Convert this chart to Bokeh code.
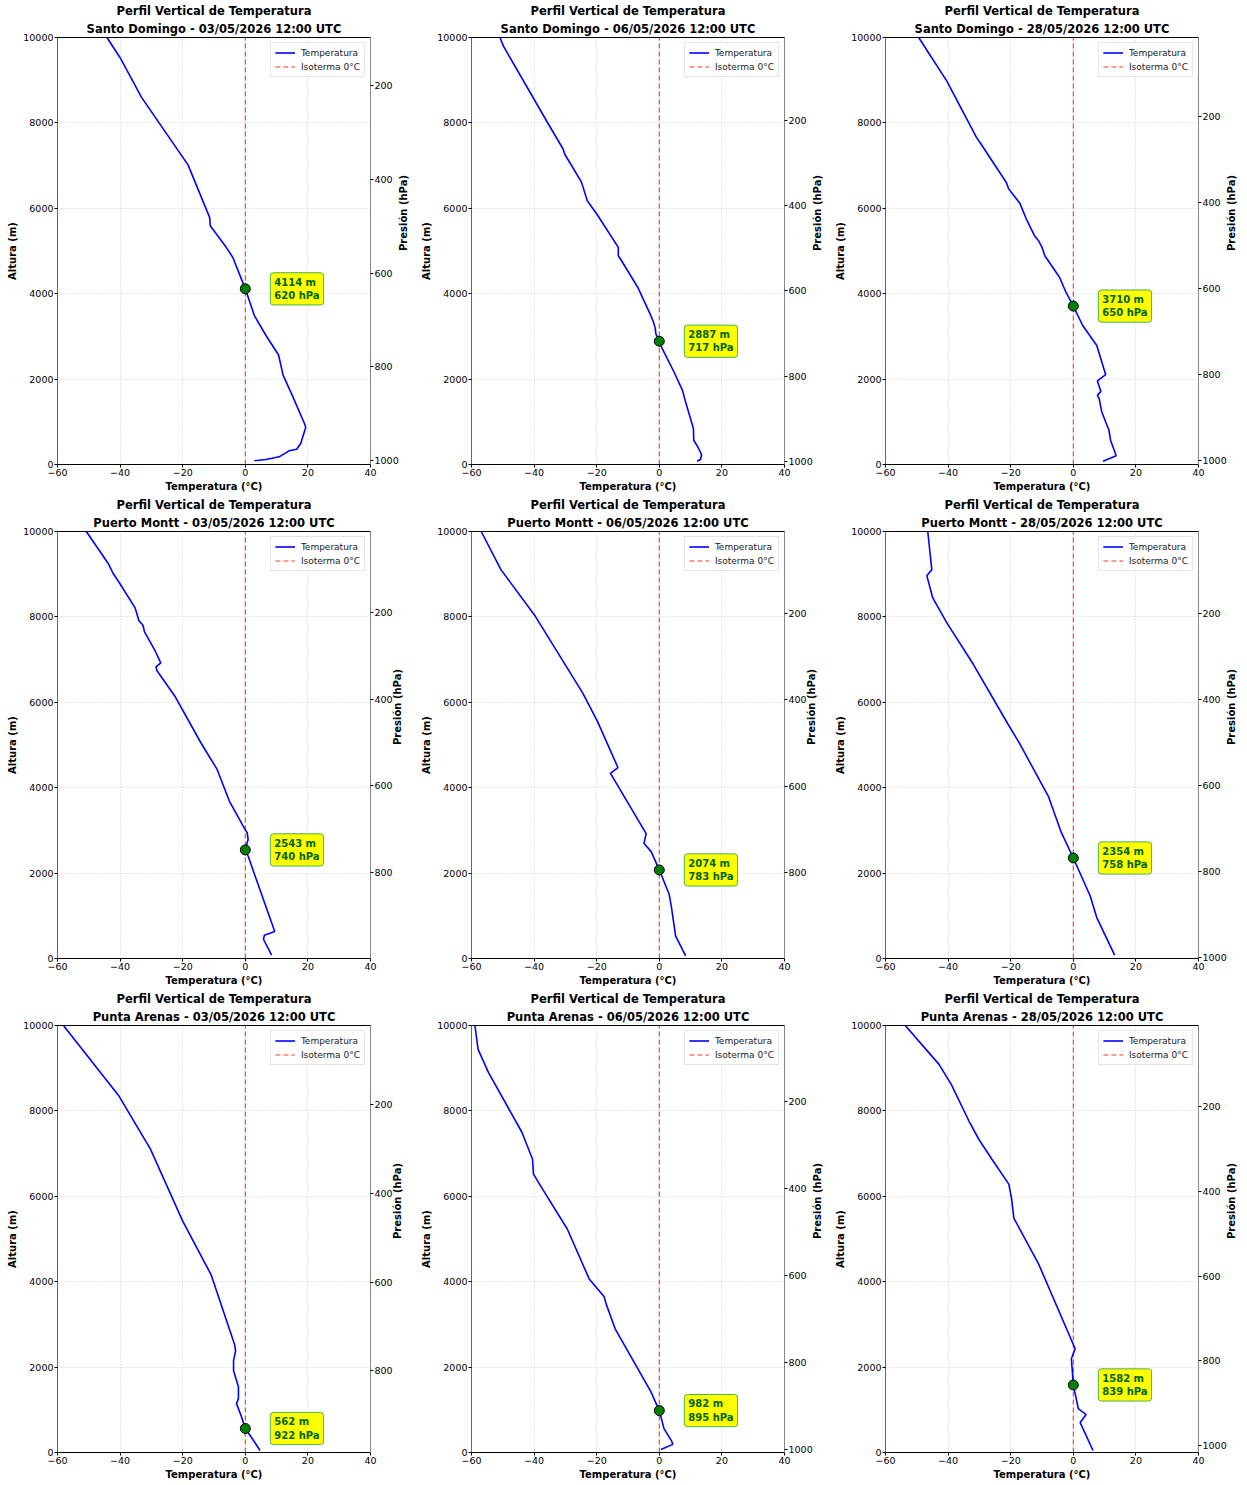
import math
from bokeh.plotting import figure
from bokeh.models import Range1d, LinearAxis, FixedTicker, Title, Label, Legend, LegendItem
from bokeh.layouts import gridplot
from bokeh.embed import file_html
from bokeh.resources import INLINE

FONT = "DejaVu Sans"

# ---------------- data ----------------
stations = ["Santo Domingo", "Santo Domingo", "Santo Domingo",
            "Puerto Montt", "Puerto Montt", "Puerto Montt",
            "Punta Arenas", "Punta Arenas", "Punta Arenas"]
dates = ["03/05/2026", "06/05/2026", "28/05/2026"] * 3
hour = "12:00 UTC"

sd_0305_alt = [86, 117, 180, 320, 357, 491, 864, 942, 1619, 2086, 2570, 3021, 3488, 4114,
               4852, 5086, 5591, 5787, 7016, 8591, 9526, 10000]
sd_0305_temp = [2.9, 6.6, 10.8, 14.0, 16.4, 17.7, 19.3, 19.0, 15.0, 12.1, 10.6, 6.6, 2.9, 0.0,
                -4.0, -6.1, -11.2, -11.4, -18.3, -33.1, -40.0, -44.2]

sd_0605_alt = [77, 124, 234, 413, 568, 841, 1465, 1736, 2166, 2750, 2887, 3061, 3194, 3318,
               3488, 4152, 4813, 4890, 5086, 5825, 6176, 6619, 7266, 7383, 8044, 9797, 10000]
sd_0605_temp = [12.1, 13.2, 13.5, 12.3, 11.0, 10.9, 8.4, 7.4, 4.7, 0.7, 0.0, -1.1, -1.3, -1.8,
                -2.7, -6.9, -12.4, -13.1, -13.1, -19.6, -23.0, -24.9, -30.2, -30.7, -36.0, -49.8, -50.9]

sd_2805_alt = [77, 203, 568, 801, 1231, 1542, 1619, 1713, 1956, 2103, 2399, 2787, 3255, 3710,
               4035, 4385, 4890, 5086, 5241, 5358, 5748, 6121, 6449, 6605, 7540, 7656, 8979, 10000]
sd_2805_temp = [9.5, 13.7, 11.9, 11.4, 9.1, 8.25, 7.7, 8.8, 7.7, 10.35, 9.1, 7.5, 3.0, 0.0,
                -2.35, -4.4, -9.1, -10.0, -11.1, -12.4, -15.0, -17.1, -20.6, -21.4, -29.8, -30.9, -40.4, -49.4]

pm_0305_alt = [77, 451, 545, 632, 1895, 2400, 2543, 2791, 2947, 3025, 3687, 4428, 5053, 6143,
               6744, 6830, 6924, 7196, 7649, 7804, 7914, 8211, 8795, 9029, 9263, 10000]
pm_0305_temp = [8.4, 5.8, 6.1, 9.4, 3.3, 0.9, 0.0, 0.9, 0.6, -0.1, -5.1, -9.0, -14.2, -22.5,
                -28.25, -28.55, -27.0, -28.75, -32.2, -32.7, -34.0, -35.2, -40.2, -42.3, -43.9, -50.8]

pm_0605_alt = [61, 529, 1193, 1504, 1932, 2074, 2503, 2697, 2924, 4335, 4468, 5013, 5558,
               6222, 8014, 9107, 10000]
pm_0605_temp = [8.4, 5.2, 3.9, 3.15, 0.8, 0.0, -2.6, -4.9, -4.2, -15.6, -13.2, -16.5, -19.8,
                -24.5, -39.6, -50.6, -56.9]

pm_2805_alt = [77, 959, 1464, 2354, 2947, 3804, 5053, 5480, 6884, 7860, 8444, 8966, 9107, 10000]
pm_2805_temp = [13.2, 7.5, 5.4, 0.0, -3.8, -8.0, -17.3, -20.8, -31.9, -40.4, -44.9, -46.8, -45.2, -46.5]

pa_0305_alt = [47, 327, 562, 841, 1145, 1262, 1542, 1916, 2150, 2383, 2523, 4159, 5420, 7103,
               8341, 10000]
pa_0305_temp = [4.7, 2.2, 0.0, -1.25, -2.8, -2.2, -2.2, -3.75, -3.75, -3.1, -3.4, -10.9, -20.0,
                -30.3, -40.3, -58.1]

pa_0605_alt = [70, 190, 260, 560, 982, 1425, 2897, 3481, 3645, 4065, 5234, 6168, 6519, 6869,
               7500, 8902, 9440, 10000]
pa_0605_temp = [0.5, 4.3, 4.0, 1.5, 0.0, -2.7, -14.1, -17.0, -17.6, -22.4, -29.4, -37.3, -40.2,
                -40.5, -43.9, -54.6, -57.9, -58.9]

pa_2805_alt = [47, 701, 888, 1028, 1582, 2196, 2430, 4416, 5491, 5935, 6285, 6869, 7336, 7757,
               8621, 9089, 10000]
pa_2805_temp = [6.3, 2.2, 4.1, 1.6, 0.0, -0.6, 0.6, -11.1, -19.0, -19.7, -20.6, -26.0, -30.2,
                -33.3, -39.0, -42.9, -53.7]

freezing_alt = [4114, 2887, 3710, 2543, 2074, 2354, 562, 982, 1582]
freezing_pres = [620, 717, 650, 740, 783, 758, 922, 895, 839]

pres_axis_bottom = [1008, 1007, 1009, 999, 999, 1002, 984, 1007, 1016]
pres_axis_top = [98, 6, 17, 12, 10, 10, 22, 26, 9]

temp_ticks = [-60, -40, -20, 0, 20, 40]
alt_ticks = [0, 2000, 4000, 6000, 8000, 10000]
pres_ticks = [200, 400, 600, 800, 1000]
isotherm_temp = 0

profiles_alt = [sd_0305_alt, sd_0605_alt, sd_2805_alt,
                pm_0305_alt, pm_0605_alt, pm_2805_alt,
                pa_0305_alt, pa_0605_alt, pa_2805_alt]
profiles_temp = [sd_0305_temp, sd_0605_temp, sd_2805_temp,
                 pm_0305_temp, pm_0605_temp, pm_2805_temp,
                 pa_0305_temp, pa_0605_temp, pa_2805_temp]

# ---------------- layout ----------------
FRAME_W, FRAME_H = 313, 427


def minus(v):
    return ("\u2212%d" % abs(v)) if v < 0 else "%d" % v


def style_axis(ax):
    ax.axis_label_text_font = FONT
    ax.axis_label_text_font_style = "bold"
    ax.axis_label_text_font_size = "10px"
    ax.axis_label_text_color = "#000000"
    ax.major_label_text_font = FONT
    ax.major_label_text_font_size = "9.5px"
    ax.major_label_text_color = "#000000"
    ax.major_tick_in = 0
    ax.major_tick_out = 3
    ax.minor_tick_line_color = None
    ax.major_label_standoff = 1
    ax.axis_label_standoff = 2


figs = []
for i in range(9):
    r, c = divmod(i, 3)
    p = figure(frame_width=FRAME_W, frame_height=FRAME_H,
               output_backend="svg", toolbar_location=None,
               x_range=Range1d(temp_ticks[0], temp_ticks[-1]),
               y_range=Range1d(alt_ticks[0], alt_ticks[-1]),
               title=None,
               min_border_left=57 if c == 0 else 53, min_border_top=37,
               min_border_right=48, min_border_bottom=30)
    p.extra_y_ranges = {"p": Range1d(start=pres_axis_bottom[i], end=pres_axis_top[i])}
    p.background_fill_color = "white"
    p.border_fill_color = "white"
    p.outline_line_color = "black"
    p.outline_line_width = 1

    p.xaxis.ticker = FixedTicker(ticks=temp_ticks)
    p.xaxis.major_label_overrides = {t: minus(t) for t in temp_ticks}
    p.yaxis.ticker = FixedTicker(ticks=alt_ticks)
    p.xaxis.axis_label = "Temperatura (°C)"
    p.yaxis.axis_label = "Altura (m)"
    style_axis(p.xaxis[0])
    style_axis(p.yaxis[0])
    p.yaxis.axis_line_color = "#666666"

    rax = LinearAxis(y_range_name="p", ticker=FixedTicker(ticks=pres_ticks),
                     axis_label="Presión (hPa)")
    style_axis(rax)
    rax.axis_label_orientation = math.pi / 2
    rax.axis_line_color = "#888888"
    p.add_layout(rax, "right")

    for g in (p.xgrid[0], p.ygrid[0]):
        g.grid_line_color = "#b8b8b8"
        g.grid_line_dash = "1 2"
        g.grid_line_width = 0.8
        g.grid_line_alpha = 0.8

    iso = p.line([isotherm_temp, isotherm_temp], [alt_ticks[0], alt_ticks[-1]],
                 line_color="red", line_dash="5 3", line_width=1.1, line_alpha=0.8)
    prof = p.line(profiles_temp[i], profiles_alt[i], line_color="blue", line_width=1.6)

    p.scatter([isotherm_temp], [freezing_alt[i]], size=10, fill_color="green",
              line_color="black", line_width=1)
    lab = Label(x=isotherm_temp, y=freezing_alt[i], x_offset=25, y_offset=0,
                text="%d m\n%d hPa" % (freezing_alt[i], freezing_pres[i]),
                text_font=FONT, text_font_style="bold", text_font_size="10px",
                text_color="#006400", text_align="left", text_baseline="middle",
                background_fill_color="#ffff00", background_fill_alpha=1.0,
                border_line_color="#4caf50", border_line_width=1,
                padding=4, border_radius=3)
    p.add_layout(lab)

    leg = Legend(items=[LegendItem(label="Temperatura", renderers=[prof]),
                        LegendItem(label="Isoterma 0°C", renderers=[iso])],
                 location="top_right")
    leg.label_text_font = FONT
    leg.label_text_font_size = "9px"
    leg.label_text_color = "#222222"
    leg.glyph_width = 20
    leg.glyph_height = 11
    leg.label_height = 11
    leg.label_standoff = 6
    leg.spacing = 3
    leg.padding = 4
    leg.margin = 5
    leg.border_line_color = "#cccccc"
    leg.border_line_width = 1
    leg.background_fill_alpha = 0.85
    p.add_layout(leg)

    p.add_layout(Title(text="%s - %s %s" % (stations[i], dates[i], hour), align="center",
                       text_font=FONT, text_font_size="11.5px", text_font_style="bold",
                       text_color="#000000", standoff=4), "above")
    p.add_layout(Title(text="Perfil Vertical de Temperatura", align="center",
                       text_font=FONT, text_font_size="11.5px", text_font_style="bold",
                       text_color="#000000", standoff=0), "above")
    figs.append(p)

grid = gridplot([figs[0:3], figs[3:6], figs[6:9]], toolbar_location=None)

open("out.html", "w").write(file_html(grid, INLINE))
